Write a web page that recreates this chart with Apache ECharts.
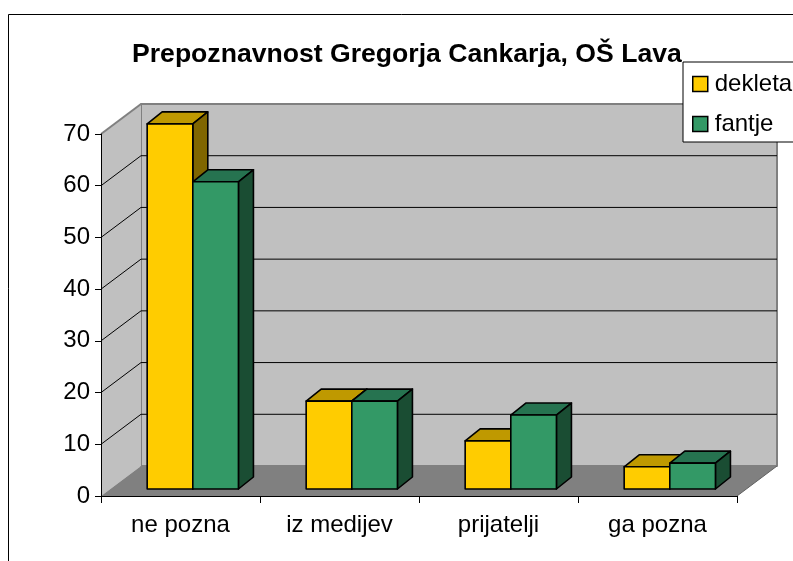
<!DOCTYPE html>
<html><head><meta charset="utf-8">
<script src="https://cdn.jsdelivr.net/npm/echarts@6/dist/echarts.min.js"></script>
<style>html,body{margin:0;padding:0;background:#fff;overflow:hidden}#c{width:793px;height:561px}</style>
</head><body><div id="c"></div>
<script>
const titleText = 'Prepoznavnost Gregorja Cankarja, OŠ Lava';
const categories = ['ne pozna', 'iz medijev', 'prijatelji', 'ga pozna'];
const dekleta = [70.6, 17, 9.3, 4.3];
const fantje = [59.4, 17, 14.3, 5];
const yTicks = [0, 10, 20, 30, 40, 50, 60, 70];

const WALL = [40, -30], BAR_DEPTH = [15, -12], BAR_LIFT = 7, BAR_SHIFT = 12.3;
const BAR_FRAC = 0.287;
const poly = (points, fill, stroke, lw) => ({
  type: 'polygon', shape: { points },
  style: { fill, stroke: stroke || 'none', lineWidth: lw || 0, lineJoin: 'round' }
});
const seg = (a, b, stroke, lw) => ({
  type: 'line', shape: { x1: a[0], y1: a[1], x2: b[0], y2: b[1] },
  style: { stroke, lineWidth: lw }
});

function renderWalls(params, api) {
  const r = params.coordSys;
  const L = r.x, R = r.x + r.width, B = r.y + r.height, T = r.y;
  const [dx, dy] = WALL;
  const kids = [
    poly([[L + dx, T + dy], [R + dx, T + dy], [R + dx, B + dy], [L + dx, B + dy]], '#c0c0c0', '#808080', 2),
    poly([[L, T], [L + dx, T + dy], [L + dx, B + dy], [L, B]], '#c0c0c0'),
    poly([[L, B], [R, B], [R + dx, B + dy], [L + dx, B + dy]], '#808080'),
    seg([L, T], [L + dx, T + dy], '#808080', 2),
    seg([R, B], [R + dx, B + dy], '#606060', 1)
  ];
  yTicks.forEach(v => {
    if (v === 0 || v === yTicks[yTicks.length - 1]) return;
    const y = api.coord([0, v])[1];
    kids.push(seg([L, y], [L + dx, y + dy], '#000', 1));
    kids.push(seg([L + dx, y + dy], [R + dx, y + dy], '#000', 1));
  });
  return { type: 'group', children: kids };
}

function barRenderer(slot, front, top, side) {
  return function (params, api) {
    const i = api.value(0), v = api.value(1);
    const p = api.coord([i, v]), band = api.size([1, 0])[0], w = band * BAR_FRAC;
    const base = api.coord([i, 0])[1] - BAR_LIFT;
    const y = p[1] - BAR_LIFT;
    const x0 = p[0] + BAR_SHIFT + slot * w, x1 = x0 + w;
    const [dx, dy] = BAR_DEPTH;
    return {
      type: 'group', children: [
        poly([[x0, y], [x1, y], [x1 + dx, y + dy], [x0 + dx, y + dy]], top, '#000', 1.6),
        poly([[x1, y], [x1 + dx, y + dy], [x1 + dx, base + dy], [x1, base]], side, '#000', 1.6),
        poly([[x0, y], [x1, y], [x1, base], [x0, base]], front, '#000', 1.6)
      ]
    };
  };
}

const toPairs = arr => arr.map((v, i) => [i, v]);
const chart = echarts.init(document.getElementById('c'), null, { renderer: 'canvas' });
chart.setOption({
  animation: false,
  backgroundColor: '#fff',
  textStyle: { fontFamily: '"Liberation Sans", Arial, sans-serif' },
  graphic: [{
    type: 'rect', z: 0, silent: true,
    shape: { x: 8.5, y: 14.5, width: 900, height: 900 },
    style: { fill: 'none', stroke: '#000', lineWidth: 1 }
  }],
  title: {
    text: titleText, left: 127, top: 36,
    textStyle: { fontSize: 26.6, fontWeight: 'bold', color: '#000', fontFamily: '"Liberation Sans", Arial, sans-serif' }
  },
  legend: {
    left: 683, top: 62, orient: 'vertical', icon: 'rect',
    data: ['dekleta', 'fantje'],
    itemWidth: 15, itemHeight: 15, itemGap: 16,
    padding: [10, 30, 6, 9],
    backgroundColor: '#fff', borderColor: '#000', borderWidth: 1,
    itemStyle: { borderColor: '#000', borderWidth: 1.5 },
    textStyle: { fontSize: 24, color: '#000', padding: [0, 0, 0, 2] },
    selectedMode: false
  },
  grid: { left: 101, right: 56, top: 134, bottom: 65, containLabel: false },
  xAxis: {
    type: 'category', data: categories, z: 3,
    axisLine: { lineStyle: { color: '#000', width: 1 } },
    axisTick: { show: true, length: 7, lineStyle: { color: '#000' }, alignWithLabel: false },
    axisLabel: { fontSize: 24, color: '#000', margin: 17, interval: 0 }
  },
  yAxis: {
    type: 'value', min: 0, max: 70, interval: 10, z: 3,
    axisLine: { show: true, lineStyle: { color: '#000', width: 1 } },
    axisTick: { show: true, length: 6, lineStyle: { color: '#000' } },
    axisLabel: { fontSize: 24, color: '#000', margin: 11 },
    splitLine: { show: false }
  },
  series: [
    { type: 'custom', name: 'walls', silent: true, z: 1, clip: false, data: [[0, 0]], renderItem: renderWalls },
    { type: 'custom', name: 'dekleta', z: 2, clip: false, itemStyle: { color: '#FFCC00' },
      encode: { x: 0, y: 1 }, data: toPairs(dekleta), renderItem: barRenderer(-1, '#FFCC00', '#BF9900', '#806600') },
    { type: 'custom', name: 'fantje', z: 2, clip: false, itemStyle: { color: '#339966' },
      encode: { x: 0, y: 1 }, data: toPairs(fantje), renderItem: barRenderer(0, '#339966', '#267350', '#1A4D33') }
  ]
});
</script></body></html>
